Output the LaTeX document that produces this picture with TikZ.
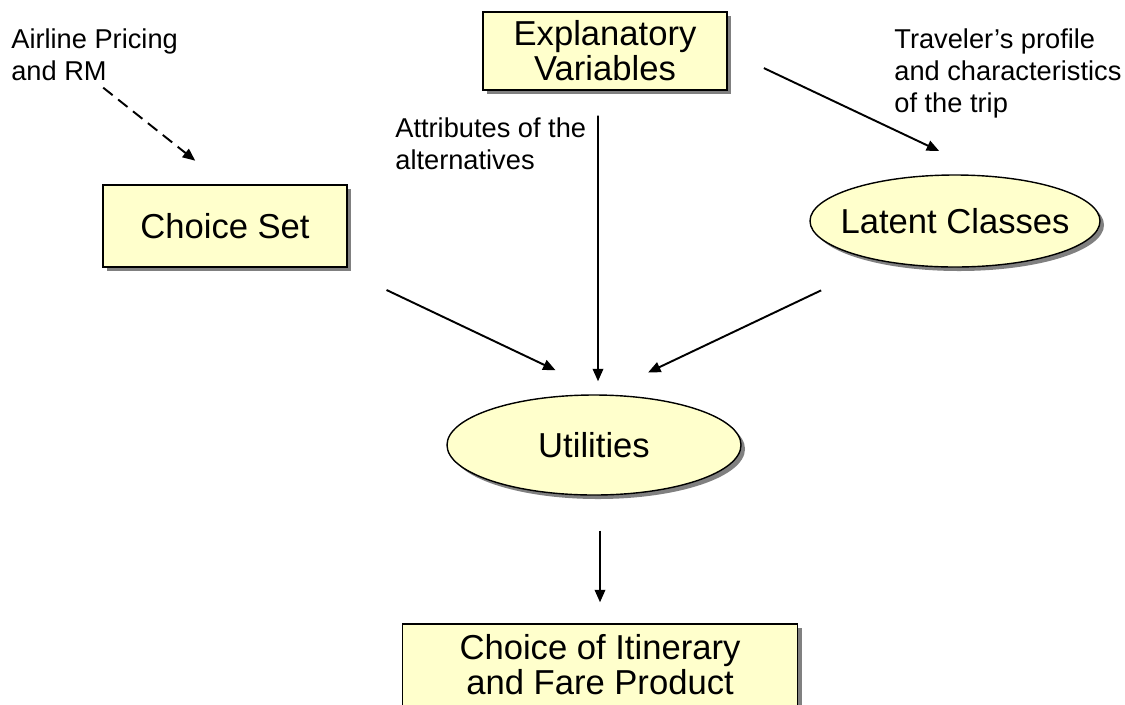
\documentclass[tikz,border=0pt]{standalone}
\usepackage{fontspec}
\setmainfont{Liberation Sans}
\usetikzlibrary{shapes.geometric,shadows,arrows.meta}
\definecolor{paleyellow}{HTML}{FFFFCC}
\newcommand{\bigtext}{\fontsize{19.7}{19.8}\selectfont}
\newcommand{\smalltext}{\fontsize{15.5}{18.3}\selectfont}

\begin{document}
\begin{tikzpicture}[>={Triangle[length=0.25cm,width=0.21cm]},
  card/.style={draw, line width=0.8pt, fill=paleyellow, inner sep=0pt,
    align=center, font=\bigtext,
    drop shadow={shadow xshift=0.08cm, shadow yshift=-0.08cm, fill=black!50, opacity=1}},
  oval/.style={card, ellipse, inner xsep=-0.3cm},
  note/.style={anchor=north west, inner sep=0pt, align=left, font=\smalltext},
  link/.style={->, line width=1.1pt}]
  % Page frame.
  \useasboundingbox (0,0) rectangle (22.5,-14.08);
  % Boxes and ovals.
  \node[card, minimum width=4.88cm, minimum height=1.56cm] (expl) at (12.1,-1.02) {Explanatory\\Variables};
  \node[card, minimum width=4.88cm, minimum height=1.64cm] (cs) at (4.5,-4.52) {Choice Set};
  \node[oval, minimum width=5.8cm, minimum height=1.84cm] (latent) at (19.1,-4.42) {Latent Classes};
  \node[oval, minimum width=5.88cm, minimum height=2.0cm] (util) at (11.88,-8.9) {Utilities};
  \node[card, minimum width=7.9cm, minimum height=1.64cm] (final) at (12.0,-13.3) {Choice of Itinerary\\and Fare Product};
  % Free-standing notes.
  \node[note] (pricing) at (0.22,-0.56) {Airline Pricing\\and RM};
  \node[note] (attrs) at (7.9,-2.34) {Attributes of the\\alternatives};
  \node[note] (traveler) at (17.88,-0.56) {Traveler’s profile\\and characteristics\\of the trip};
  % Arrows.
  \draw[link, dash pattern=on 0.24cm off 0.14cm, shorten <=0.22cm, shorten >=0.76cm] (pricing.south) -- (cs.north);
  \draw[link, shorten <=0.5cm, shorten >=0.26cm] ([xshift=-0.14cm]expl.south) -- ([xshift=0.08cm]util.north);
  \draw[link, shorten <=0.8cm, shorten >=1.16cm] (expl.east) -- (latent.51.5);
  \draw[link, shorten <=1.04cm, shorten >=1.13cm] (cs.-20.4) -- (util.76.5);
  \draw[link, shorten <=1.35cm, shorten >=1.02cm] (latent.209.4) -- (util.81);
  \draw[link, shorten <=0.7cm, shorten >=0.42cm] (util.south -| final.north) -- (final.north);
\end{tikzpicture}
\end{document}
